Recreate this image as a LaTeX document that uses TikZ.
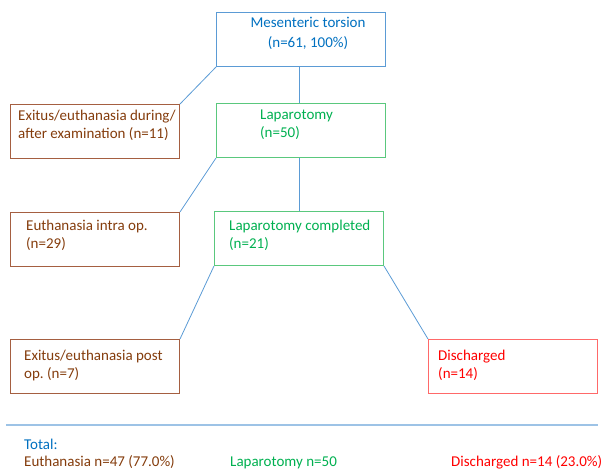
\documentclass[tikz,border=0pt]{standalone}
\usepackage{fontspec}
\setmainfont{Carlito}
\frenchspacing
\usetikzlibrary{scopes}

\definecolor{torsionblue}{RGB}{0,112,192}
\definecolor{frameblue}{RGB}{91,155,213}
\definecolor{rulerblue}{RGB}{157,195,230}
\definecolor{deathbrown}{RGB}{132,60,12}
\definecolor{framebrown}{RGB}{165,95,65}
\definecolor{lapgreen}{RGB}{0,176,80}
\definecolor{framegreen}{RGB}{90,200,125}
\definecolor{homered}{RGB}{255,0,0}
\definecolor{framered}{RGB}{255,105,105}

\begin{document}
\begin{tikzpicture}[x=1pt,y=-1pt,font=\fontsize{15}{18}\selectfont]
\useasboundingbox (0,0) rectangle (602,471);

\begin{scope}[every node/.style={draw,line width=1pt,anchor=north west,
                                 inner sep=0pt,minimum width=169pt,minimum height=54pt}]
    \node[draw=frameblue]  (MT) at (216,12) {};
    \node[draw=framebrown] (EE) at (10,104) {};
    \node[draw=framegreen] (LA) at (216,103) {};
    \node[draw=framebrown] (EI) at (10,212) {};
    \node[draw=framegreen] (LC) at (214,211) {};
    \node[draw=framebrown] (EP) at (10,339) {};
    \node[draw=framered]   (DI) at (428,339) {};
\end{scope}

\begin{scope}[every node/.style={anchor=north west,inner sep=0pt,align=left}]
    \node[torsionblue,anchor=north,align=center,font=\fontsize{15}{20}\selectfont]
        (MTtext) at (308,17) {Mesenteric torsion\\(n=61, 100\%)};
    \node[deathbrown] (EEtext) at (18,110) {Exitus/euthanasia during/\\after examination (n=11)};
    \node[lapgreen]   (LAtext) at (260,110) {Laparotomy\\(n=50)};
    \node[deathbrown] (EItext) at (26,220) {Euthanasia intra op.\\(n=29)};
    \node[lapgreen]   (LCtext) at (229,220) {Laparotomy completed\\(n=21)};
    \node[deathbrown] (EPtext) at (24,350) {Exitus/euthanasia post\\op. (n=7)};
    \node[homered]    (DItext) at (438,350) {Discharged\\(n=14)};
\end{scope}

\begin{scope}[every edge/.style={draw=frameblue,line width=0.8pt}]
    \path (MT.south west) edge (EE.north east);
    \path (MT.south -| 299,0) edge (LA.north -| 299,0);
    \path (LA.south west) edge (EI.north east);
    \path (LA.south -| 299,0) edge (LC.north -| 299,0);
    \path (LC.south west) edge (EP.north east);
    \path (LC.south east) edge (DI.north west);
\end{scope}

\coordinate (RL) at (6,425);
\coordinate (RR) at (598,425);
\draw[rulerblue,line width=1.6pt] (RL) -- (RR);

\begin{scope}[every node/.style={anchor=base west,inner sep=0pt}]
    \node[torsionblue] (total) at (24,449) {Total:};
    \node[deathbrown]  (totE)  at (24,466) {Euthanasia n=47 (77.0\%)};
    \node[lapgreen]    (totL)  at (230,466) {Laparotomy n=50};
    \node[homered]     (totD)  at (451,466) {Discharged n=14 (23.0\%)};
\end{scope}
\end{tikzpicture}
\end{document}
